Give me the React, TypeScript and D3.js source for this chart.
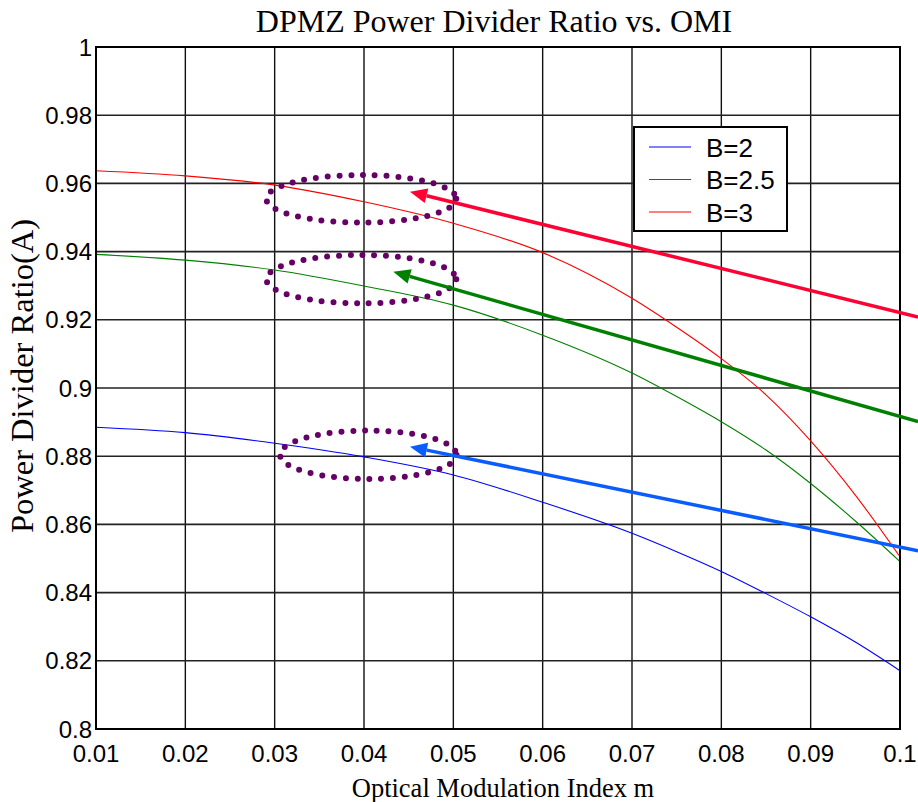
import React from "react";
import * as d3 from "d3";

const W = 918;
const H = 802;

const omi = [0.01, 0.02, 0.03, 0.04, 0.05, 0.06, 0.07, 0.075, 0.08, 0.085, 0.09, 0.095, 0.1];
const seriesB2 = [0.8885, 0.8869, 0.8838, 0.8798, 0.8745, 0.8665, 0.8574, 0.8520, 0.8462, 0.8397, 0.8329, 0.8255, 0.8171];
const seriesB25 = [0.9392, 0.9375, 0.9346, 0.9299, 0.9243, 0.9155, 0.9044, 0.8975, 0.8901, 0.8818, 0.8720, 0.8610, 0.8491];
const seriesB3 = [0.9637, 0.9622, 0.9595, 0.9546, 0.9483, 0.9397, 0.9263, 0.9178, 0.9086, 0.8980, 0.8845, 0.8686, 0.8505];

const seriesNames = ["B=2", "B=2.5", "B=3"];
const seriesColors = ["#0000ff", "#008000", "#ff0000"];
const seriesData = [seriesB2, seriesB25, seriesB3];

const xTicks = [0.01, 0.02, 0.03, 0.04, 0.05, 0.06, 0.07, 0.08, 0.09, 0.1];
const xTickLabels = ["0.01", "0.02", "0.03", "0.04", "0.05", "0.06", "0.07", "0.08", "0.09", "0.1"];
const yTicks = [0.8, 0.82, 0.84, 0.86, 0.88, 0.9, 0.92, 0.94, 0.96, 0.98, 1];
const yTickLabels = ["0.8", "0.82", "0.84", "0.86", "0.88", "0.9", "0.92", "0.94", "0.96", "0.98", "1"];

// annotations (data units)
const ellipseCx = [0.0397, 0.0397, 0.04048];
const ellipseCy = [0.95548, 0.93191, 0.88041];
const ellipseRx = [0.01063, 0.01063, 0.00988];
const ellipseRy = [0.00698, 0.0071, 0.0071];

const arrowTipX = [0.04515, 0.04328, 0.04515];
const arrowTipY = [0.95757, 0.93411, 0.88279];
const arrowTailX = [0.10202, 0.10202, 0.10202];
const arrowTailY = [0.92082, 0.89012, 0.85229];
const arrowColors = ["#ff0033", "#008000", "#0a5cff"];

const title = "DPMZ Power Divider Ratio vs. OMI";
const xLabel = "Optical Modulation Index m";
const yLabel = "Power Divider Ratio(A)";

const L = 96, R = 900, T = 47, B = 729;

export default function App() {
  const x = d3.scaleLinear().domain([0.01, 0.1]).range([L, R]);
  const y = d3.scaleLinear().domain([0.8, 1]).range([B, T]);
  const line = d3
    .line<number>()
    .x((_, i) => x(omi[i]))
    .y((d) => y(d))
    .curve(d3.curveMonotoneX);

  const sans = "'Liberation Sans', Arial, sans-serif";
  const serif = "'Liberation Serif', 'Times New Roman', serif";

  return (
    <svg
      width={W}
      height={H}
      style={{ position: "absolute", left: 0, top: 0, background: "#fff" }}
    >
      <rect x={0} y={0} width={W} height={H} fill="#fff" />
      {/* grid */}
      {xTicks.map((t, i) => (
        <line key={"gx" + i} x1={x(t)} x2={x(t)} y1={T} y2={B} stroke="#111" strokeWidth={1.4} />
      ))}
      {yTicks.map((t, i) => (
        <line key={"gy" + i} x1={L} x2={R} y1={y(t)} y2={y(t)} stroke="#222" strokeWidth={1.6} />
      ))}
      {/* curves */}
      {seriesData.map((s, i) => (
        <path key={"s" + i} d={line(s) || ""} fill="none" stroke={seriesColors[i]} strokeWidth={1.1} />
      ))}
      {/* frame */}
      <rect x={L} y={T} width={R - L} height={B - T} fill="none" stroke="#000" strokeWidth={2} />
      {/* tick labels */}
      {xTicks.map((t, i) => (
        <text key={"xl" + i} x={x(t)} y={762} textAnchor="middle" fontFamily={sans} fontSize={24} fill="#000">
          {xTickLabels[i]}
        </text>
      ))}
      {yTicks.map((t, i) => (
        <text key={"yl" + i} x={92} y={y(t) + 8.5} textAnchor="end" fontFamily={sans} fontSize={24} fill="#000">
          {yTickLabels[i]}
        </text>
      ))}
      {/* titles */}
      <text x={494} y={32} textAnchor="middle" fontFamily={serif} fontSize={32} fill="#000">
        {title}
      </text>
      <text x={503} y={797} textAnchor="middle" fontFamily={serif} fontSize={26.5} fill="#000">
        {xLabel}
      </text>
      <text
        transform={`translate(33,${376}) rotate(-90)`}
        textAnchor="middle"
        fontFamily={serif}
        fontSize={32.5}
        fill="#000"
      >
        {yLabel}
      </text>
      {/* legend */}
      <rect x={634} y={127} width={153} height={104} fill="#fff" stroke="#000" strokeWidth={2} />
      {seriesNames.map((n, i) => (
        <g key={"lg" + i}>
          <line x1={649} x2={691} y1={147 + i * 32.5} y2={147 + i * 32.5} stroke={seriesColors[i]} strokeWidth={1.1} />
          <text x={706} y={156.5 + i * 32.5} fontFamily={sans} fontSize={26} fill="#000">
            {n}
          </text>
        </g>
      ))}
      {/* ellipses */}
      {ellipseCx.map((cx, i) => {
        const px = x(cx);
        const py = y(ellipseCy[i]);
        const rx = x(cx + ellipseRx[i]) - px;
        const ry = py - y(ellipseCy[i] + ellipseRy[i]);
        return (
          <ellipse
            key={"el" + i}
            cx={px}
            cy={py}
            rx={rx}
            ry={ry}
            fill="none"
            stroke="#660066"
            strokeWidth={6}
            strokeLinecap="round"
            strokeDasharray="0 11.8"
          />
        );
      })}
      {/* arrows */}
      {arrowTipX.map((tx, i) => {
        const x1 = x(arrowTailX[i]);
        const y1 = y(arrowTailY[i]);
        const x2 = x(tx);
        const y2 = y(arrowTipY[i]);
        const ang = Math.atan2(y2 - y1, x2 - x1);
        const len = 17;
        const hw = 7.5;
        const bx = x2 - len * Math.cos(ang);
        const by = y2 - len * Math.sin(ang);
        const p1 = [bx + hw * Math.sin(ang), by - hw * Math.cos(ang)];
        const p2 = [bx - hw * Math.sin(ang), by + hw * Math.cos(ang)];
        return (
          <g key={"ar" + i}>
            <line x1={x1} y1={y1} x2={bx} y2={by} stroke={arrowColors[i]} strokeWidth={3.5} />
            <polygon points={`${x2},${y2} ${p1[0]},${p1[1]} ${p2[0]},${p2[1]}`} fill={arrowColors[i]} />
          </g>
        );
      })}
    </svg>
  );
}
